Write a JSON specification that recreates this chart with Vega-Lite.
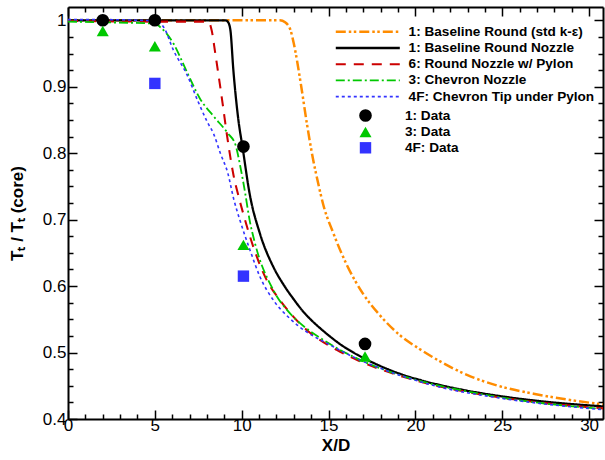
{
  "$schema": "https://vega.github.io/schema/vega-lite/v6.json",
  "autosize": "none",
  "padding": {"left": 68, "top": 7, "right": 2, "bottom": 41},
  "width": 535,
  "height": 412,
  "config": {
    "font": "Liberation Sans",
    "view": {"stroke": null},
    "axis": {
      "domainColor": "black", "domainWidth": 2, "tickColor": "black", "tickWidth": 1.5,
      "grid": false, "labelFont": "Liberation Sans", "labelFontSize": 17, "labelColor": "black",
      "titleFont": "Liberation Sans", "titleFontSize": 17, "titleFontWeight": "bold", "titleColor": "black",
      "labelFlush": false, "labelOverlap": false
    },
    "legend": {"labelFont": "Liberation Sans", "labelFontSize": 13.6, "labelFontWeight": "bold", "labelColor": "black", "labelLimit": 400}
  },
  "datasets": {
    "lines": [
      {"series": "1: Baseline Round (std k-ε)", "x": 0, "y": 1.0},
      {"series": "1: Baseline Round (std k-ε)", "x": 6, "y": 1.0},
      {"series": "1: Baseline Round (std k-ε)", "x": 12.2, "y": 1.0},
      {"series": "1: Baseline Round (std k-ε)", "x": 12.5, "y": 0.997},
      {"series": "1: Baseline Round (std k-ε)", "x": 12.8, "y": 0.986},
      {"series": "1: Baseline Round (std k-ε)", "x": 13.0, "y": 0.965},
      {"series": "1: Baseline Round (std k-ε)", "x": 13.4, "y": 0.905},
      {"series": "1: Baseline Round (std k-ε)", "x": 13.75, "y": 0.845},
      {"series": "1: Baseline Round (std k-ε)", "x": 14.1, "y": 0.792},
      {"series": "1: Baseline Round (std k-ε)", "x": 14.4, "y": 0.755},
      {"series": "1: Baseline Round (std k-ε)", "x": 14.7, "y": 0.722},
      {"series": "1: Baseline Round (std k-ε)", "x": 15.27, "y": 0.68},
      {"series": "1: Baseline Round (std k-ε)", "x": 16.05, "y": 0.632},
      {"series": "1: Baseline Round (std k-ε)", "x": 17.0, "y": 0.588},
      {"series": "1: Baseline Round (std k-ε)", "x": 17.96, "y": 0.556},
      {"series": "1: Baseline Round (std k-ε)", "x": 19.11, "y": 0.526},
      {"series": "1: Baseline Round (std k-ε)", "x": 20.26, "y": 0.505},
      {"series": "1: Baseline Round (std k-ε)", "x": 21.4, "y": 0.487},
      {"series": "1: Baseline Round (std k-ε)", "x": 23.0, "y": 0.466},
      {"series": "1: Baseline Round (std k-ε)", "x": 24.9, "y": 0.449},
      {"series": "1: Baseline Round (std k-ε)", "x": 26.8, "y": 0.438},
      {"series": "1: Baseline Round (std k-ε)", "x": 28.8, "y": 0.429},
      {"series": "1: Baseline Round (std k-ε)", "x": 30.8, "y": 0.422},

      {"series": "1: Baseline Round Nozzle", "x": 0, "y": 1.0},
      {"series": "1: Baseline Round Nozzle", "x": 5, "y": 1.0},
      {"series": "1: Baseline Round Nozzle", "x": 9.05, "y": 1.0},
      {"series": "1: Baseline Round Nozzle", "x": 9.22, "y": 0.997},
      {"series": "1: Baseline Round Nozzle", "x": 9.35, "y": 0.985},
      {"series": "1: Baseline Round Nozzle", "x": 9.52, "y": 0.925},
      {"series": "1: Baseline Round Nozzle", "x": 9.8, "y": 0.852},
      {"series": "1: Baseline Round Nozzle", "x": 10.06, "y": 0.807},
      {"series": "1: Baseline Round Nozzle", "x": 10.45, "y": 0.74},
      {"series": "1: Baseline Round Nozzle", "x": 11.05, "y": 0.679},
      {"series": "1: Baseline Round Nozzle", "x": 11.82, "y": 0.629},
      {"series": "1: Baseline Round Nozzle", "x": 12.4, "y": 0.6025},
      {"series": "1: Baseline Round Nozzle", "x": 12.97, "y": 0.581},
      {"series": "1: Baseline Round Nozzle", "x": 13.5, "y": 0.563},
      {"series": "1: Baseline Round Nozzle", "x": 14.0, "y": 0.549},
      {"series": "1: Baseline Round Nozzle", "x": 14.5, "y": 0.537},
      {"series": "1: Baseline Round Nozzle", "x": 15.0, "y": 0.526},
      {"series": "1: Baseline Round Nozzle", "x": 15.7, "y": 0.512},
      {"series": "1: Baseline Round Nozzle", "x": 16.43, "y": 0.500},
      {"series": "1: Baseline Round Nozzle", "x": 17.58, "y": 0.4845},
      {"series": "1: Baseline Round Nozzle", "x": 19.11, "y": 0.468},
      {"series": "1: Baseline Round Nozzle", "x": 20.65, "y": 0.456},
      {"series": "1: Baseline Round Nozzle", "x": 22.5, "y": 0.445},
      {"series": "1: Baseline Round Nozzle", "x": 25, "y": 0.434},
      {"series": "1: Baseline Round Nozzle", "x": 27.5, "y": 0.426},
      {"series": "1: Baseline Round Nozzle", "x": 30.8, "y": 0.419},

      {"series": "6: Round Nozzle w/ Pylon", "x": 0, "y": 0.999},
      {"series": "6: Round Nozzle w/ Pylon", "x": 5, "y": 0.998},
      {"series": "6: Round Nozzle w/ Pylon", "x": 7.9, "y": 0.998},
      {"series": "6: Round Nozzle w/ Pylon", "x": 8.15, "y": 0.995},
      {"series": "6: Round Nozzle w/ Pylon", "x": 8.27, "y": 0.985},
      {"series": "6: Round Nozzle w/ Pylon", "x": 8.48, "y": 0.95},
      {"series": "6: Round Nozzle w/ Pylon", "x": 8.9, "y": 0.875},
      {"series": "6: Round Nozzle w/ Pylon", "x": 9.17, "y": 0.824},
      {"series": "6: Round Nozzle w/ Pylon", "x": 9.52, "y": 0.768},
      {"series": "6: Round Nozzle w/ Pylon", "x": 9.85, "y": 0.732},
      {"series": "6: Round Nozzle w/ Pylon", "x": 10.09, "y": 0.709},
      {"series": "6: Round Nozzle w/ Pylon", "x": 10.67, "y": 0.659},
      {"series": "6: Round Nozzle w/ Pylon", "x": 11.44, "y": 0.609},
      {"series": "6: Round Nozzle w/ Pylon", "x": 12.2, "y": 0.579},
      {"series": "6: Round Nozzle w/ Pylon", "x": 12.97, "y": 0.554},
      {"series": "6: Round Nozzle w/ Pylon", "x": 13.74, "y": 0.534},
      {"series": "6: Round Nozzle w/ Pylon", "x": 14.5, "y": 0.519},
      {"series": "6: Round Nozzle w/ Pylon", "x": 15.47, "y": 0.504},
      {"series": "6: Round Nozzle w/ Pylon", "x": 16.62, "y": 0.489},
      {"series": "6: Round Nozzle w/ Pylon", "x": 17.96, "y": 0.475},
      {"series": "6: Round Nozzle w/ Pylon", "x": 19.5, "y": 0.462},
      {"series": "6: Round Nozzle w/ Pylon", "x": 21.4, "y": 0.449},
      {"series": "6: Round Nozzle w/ Pylon", "x": 25, "y": 0.432},
      {"series": "6: Round Nozzle w/ Pylon", "x": 30.8, "y": 0.416},

      {"series": "3: Chevron Nozzle", "x": 0, "y": 0.998},
      {"series": "3: Chevron Nozzle", "x": 2, "y": 0.997},
      {"series": "3: Chevron Nozzle", "x": 5, "y": 0.995},
      {"series": "3: Chevron Nozzle", "x": 5.3, "y": 0.99},
      {"series": "3: Chevron Nozzle", "x": 6.07, "y": 0.965},
      {"series": "3: Chevron Nozzle", "x": 6.85, "y": 0.922},
      {"series": "3: Chevron Nozzle", "x": 7.6, "y": 0.882},
      {"series": "3: Chevron Nozzle", "x": 8.4, "y": 0.855},
      {"series": "3: Chevron Nozzle", "x": 9.2, "y": 0.83},
      {"series": "3: Chevron Nozzle", "x": 9.65, "y": 0.812},
      {"series": "3: Chevron Nozzle", "x": 9.92, "y": 0.78},
      {"series": "3: Chevron Nozzle", "x": 10.2, "y": 0.74},
      {"series": "3: Chevron Nozzle", "x": 10.45, "y": 0.70},
      {"series": "3: Chevron Nozzle", "x": 10.77, "y": 0.664},
      {"series": "3: Chevron Nozzle", "x": 11.82, "y": 0.594},
      {"series": "3: Chevron Nozzle", "x": 12.78, "y": 0.559},
      {"series": "3: Chevron Nozzle", "x": 13.74, "y": 0.536},
      {"series": "3: Chevron Nozzle", "x": 14.7, "y": 0.519},
      {"series": "3: Chevron Nozzle", "x": 15.66, "y": 0.504},
      {"series": "3: Chevron Nozzle", "x": 16.81, "y": 0.489},
      {"series": "3: Chevron Nozzle", "x": 18.54, "y": 0.471},
      {"series": "3: Chevron Nozzle", "x": 20.45, "y": 0.456},
      {"series": "3: Chevron Nozzle", "x": 22.5, "y": 0.444},
      {"series": "3: Chevron Nozzle", "x": 25, "y": 0.432},
      {"series": "3: Chevron Nozzle", "x": 30.8, "y": 0.415},

      {"series": "4F: Chevron Tip under Pylon", "x": 0, "y": 1.001},
      {"series": "4F: Chevron Tip under Pylon", "x": 2, "y": 1.001},
      {"series": "4F: Chevron Tip under Pylon", "x": 5, "y": 0.999},
      {"series": "4F: Chevron Tip under Pylon", "x": 5.5, "y": 0.99},
      {"series": "4F: Chevron Tip under Pylon", "x": 6.07, "y": 0.955},
      {"series": "4F: Chevron Tip under Pylon", "x": 6.85, "y": 0.918},
      {"series": "4F: Chevron Tip under Pylon", "x": 7.5, "y": 0.877},
      {"series": "4F: Chevron Tip under Pylon", "x": 8.0, "y": 0.848},
      {"series": "4F: Chevron Tip under Pylon", "x": 8.4, "y": 0.828},
      {"series": "4F: Chevron Tip under Pylon", "x": 8.77, "y": 0.80},
      {"series": "4F: Chevron Tip under Pylon", "x": 9.2, "y": 0.77},
      {"series": "4F: Chevron Tip under Pylon", "x": 9.55, "y": 0.73},
      {"series": "4F: Chevron Tip under Pylon", "x": 9.9, "y": 0.699},
      {"series": "4F: Chevron Tip under Pylon", "x": 10.48, "y": 0.654},
      {"series": "4F: Chevron Tip under Pylon", "x": 11.05, "y": 0.614},
      {"series": "4F: Chevron Tip under Pylon", "x": 11.82, "y": 0.579},
      {"series": "4F: Chevron Tip under Pylon", "x": 12.78, "y": 0.551},
      {"series": "4F: Chevron Tip under Pylon", "x": 13.74, "y": 0.531},
      {"series": "4F: Chevron Tip under Pylon", "x": 14.9, "y": 0.514},
      {"series": "4F: Chevron Tip under Pylon", "x": 16.62, "y": 0.491},
      {"series": "4F: Chevron Tip under Pylon", "x": 18.54, "y": 0.471},
      {"series": "4F: Chevron Tip under Pylon", "x": 21.42, "y": 0.448},
      {"series": "4F: Chevron Tip under Pylon", "x": 25, "y": 0.431},
      {"series": "4F: Chevron Tip under Pylon", "x": 30.8, "y": 0.414}
    ],
    "points": [
      {"series": "1: Data", "x": 2, "y": 1.0},
      {"series": "1: Data", "x": 5, "y": 1.0},
      {"series": "1: Data", "x": 10.1, "y": 0.81},
      {"series": "1: Data", "x": 17.1, "y": 0.513},
      {"series": "3: Data", "x": 2, "y": 0.984},
      {"series": "3: Data", "x": 5, "y": 0.961},
      {"series": "3: Data", "x": 10.1, "y": 0.662},
      {"series": "3: Data", "x": 17.1, "y": 0.494},
      {"series": "4F: Data", "x": 5, "y": 0.905},
      {"series": "4F: Data", "x": 10.1, "y": 0.615}
    ]
  },
  "layer": [
    {
      "data": {"name": "lines"},
      "mark": {"type": "line", "interpolate": "monotone", "clip": true},
      "encoding": {
        "x": {
          "field": "x", "type": "quantitative",
          "scale": {"domain": [0, 30.8], "nice": false, "zero": false},
          "axis": {
            "orient": "bottom", "title": "X/D", "titlePadding": 0,
            "values": [0,1,2,3,4,5,6,7,8,9,10,11,12,13,14,15,16,17,18,19,20,21,22,23,24,25,26,27,28,29,30],
            "tickSize": {"condition": {"test": "datum.value % 5 === 0", "value": -9}, "value": -5},
            "labelExpr": "datum.value % 5 === 0 ? datum.label : ''",
            "labelPadding": 7
          }
        },
        "y": {
          "field": "y", "type": "quantitative",
          "scale": {"domain": [0.4, 1.02], "nice": false, "zero": false},
          "axis": {
            "orient": "left", "title": "Tₜ / Tₜ (core)", "titlePadding": 16,
            "values": [0.4,0.425,0.45,0.475,0.5,0.525,0.55,0.575,0.6,0.625,0.65,0.675,0.7,0.725,0.75,0.775,0.8,0.825,0.85,0.875,0.9,0.925,0.95,0.975,1.0],
            "tickSize": {"condition": {"test": "abs(datum.value*10 - round(datum.value*10)) < 0.001", "value": -9}, "value": -5},
            "labelExpr": "abs(datum.value*10 - round(datum.value*10)) < 0.001 ? format(datum.value, '~g') : ''",
            "labelPadding": 11
          }
        },
        "stroke": {
          "field": "series", "type": "nominal",
          "scale": {
            "domain": ["1: Baseline Round (std k-ε)", "1: Baseline Round Nozzle", "6: Round Nozzle w/ Pylon", "3: Chevron Nozzle", "4F: Chevron Tip under Pylon"],
            "range": ["#FF8C00", "#000000", "#CC0000", "#00C800", "#3333FF"]
          },
          "legend": {
            "orient": "none", "legendX": 293, "legendY": 18, "title": null,
            "symbolType": "M-10,0H10", "symbolSize": 41, "labelOffset": 34, "rowPadding": 1.2
          }
        },
        "strokeDash": {
          "field": "series", "type": "nominal",
          "scale": {
            "domain": ["1: Baseline Round (std k-ε)", "1: Baseline Round Nozzle", "6: Round Nozzle w/ Pylon", "3: Chevron Nozzle", "4F: Chevron Tip under Pylon"],
            "range": [[10,3,2.5,2.5,2.5,3], [1,0], [10,8], [9,3,2,3], [3,3]]
          }
        },
        "strokeWidth": {
          "field": "series", "type": "nominal",
          "scale": {
            "domain": ["1: Baseline Round (std k-ε)", "1: Baseline Round Nozzle", "6: Round Nozzle w/ Pylon", "3: Chevron Nozzle", "4F: Chevron Tip under Pylon"],
            "range": [2.5, 1.6, 1.6, 1.6, 2]
          }
        }
      }
    },
    {
      "data": {"name": "points"},
      "mark": {"type": "point", "filled": true, "opacity": 1, "clip": true},
      "encoding": {
        "x": {
          "field": "x", "type": "quantitative",
          "axis": {
            "orient": "top", "title": null, "labels": false,
            "values": [0,1,2,3,4,5,6,7,8,9,10,11,12,13,14,15,16,17,18,19,20,21,22,23,24,25,26,27,28,29,30],
            "tickSize": {"condition": {"test": "datum.value % 5 === 0", "value": -9}, "value": -5}
          }
        },
        "y": {
          "field": "y", "type": "quantitative",
          "axis": {
            "orient": "right", "title": null, "labels": false,
            "values": [0.4,0.425,0.45,0.475,0.5,0.525,0.55,0.575,0.6,0.625,0.65,0.675,0.7,0.725,0.75,0.775,0.8,0.825,0.85,0.875,0.9,0.925,0.95,0.975,1.0],
            "tickSize": {"condition": {"test": "abs(datum.value*10 - round(datum.value*10)) < 0.001", "value": -9}, "value": -5}
          }
        },
        "fill": {
          "field": "series", "type": "nominal",
          "scale": {"domain": ["1: Data", "3: Data", "4F: Data"], "range": ["#000000", "#00C800", "#3333FF"]},
          "legend": {
            "orient": "none", "legendX": 290, "legendY": 101, "title": null,
            "labelOffset": 32, "rowPadding": -2
          }
        },
        "shape": {
          "field": "series", "type": "nominal",
          "scale": {"domain": ["1: Data", "3: Data", "4F: Data"], "range": ["circle", "triangle-up", "square"]}
        },
        "size": {
          "field": "series", "type": "nominal",
          "scale": {"domain": ["1: Data", "3: Data", "4F: Data"], "range": [160, 130, 100]}
        }
      }
    }
  ],
  "resolve": {"axis": {"x": "independent", "y": "independent"}}
}
